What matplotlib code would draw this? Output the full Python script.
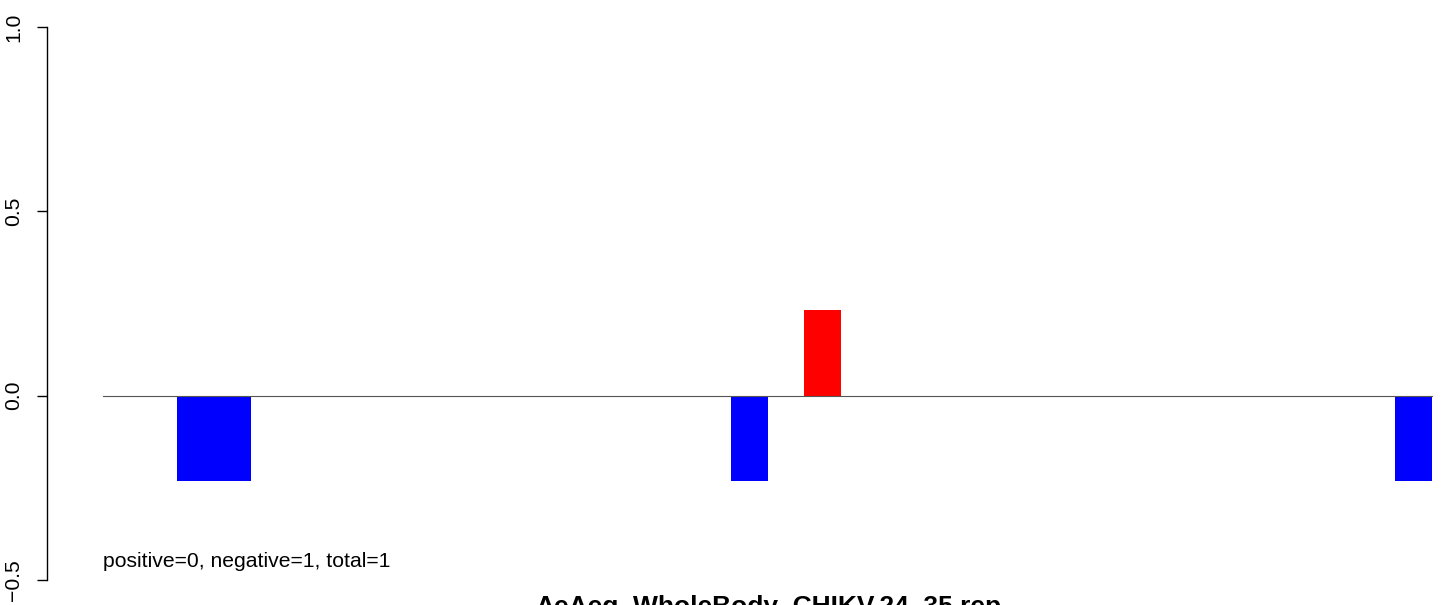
import matplotlib
matplotlib.use("Agg")
import matplotlib.pyplot as plt

plt.rcParams['font.family'] = ['Liberation Sans', 'DejaVu Sans']

values = [0, 0, -0.232, -0.232, 0, 0, 0, 0, 0, 0, 0, 0, 0, 0, 0, 0, 0, -0.232,
          0, 0.232, 0, 0, 0, 0, 0, 0, 0, 0, 0, 0, 0, 0, 0, 0, 0, -0.232]
yticks = [-0.5, 0.0, 0.5, 1.0]
ytick_labels = ["\u22120.5", "0.0", "0.5", "1.0"]
title = "AeAeg_WholeBody_CHIKV.24_35.rep"
note = "positive=0, negative=1, total=1"

W, H = 1441, 605
fig = plt.figure(figsize=(W / 100, H / 100), dpi=100)

left_px, right_px = 47, 1441
top_px, bot_px = 27, 580
ax = fig.add_axes([left_px / W, 1 - bot_px / H, (right_px - left_px) / W, (bot_px - top_px) / H])
unit = 36.92
x0_px = 103
ax.set_xlim((left_px - x0_px) / unit, (right_px - x0_px) / unit)
ax.set_ylim(-0.5, 1.0)

n = len(values)
xs = list(range(n))
colors = ['red' if v > 0 else 'blue' for v in values]
ax.bar(xs, values, width=1.0, align='edge', color=colors, linewidth=0, zorder=2)
ax.plot([0, n], [0, 0], color='#555555', linewidth=0.8, zorder=3)

for s in ['top', 'right', 'bottom']:
    ax.spines[s].set_visible(False)
ax.spines['left'].set_bounds(-0.5, 1.0)
ax.spines['left'].set_linewidth(1.0)
ax.spines['left'].set_color('black')
ax.set_xticks([])
ax.set_yticks(yticks)
ax.set_yticklabels(ytick_labels, rotation=90, va='center', fontsize=15.2)
ax.tick_params(axis='y', length=7.2, width=1.0, pad=10, direction='out')

ax.text(0, -0.45, note, fontsize=15.2, ha='left', va='center')

fig.text(768 / W, 1 - 614 / H, title, fontsize=19, fontweight='bold', ha='center', va='baseline')

fig.savefig('out.png', dpi=100)
